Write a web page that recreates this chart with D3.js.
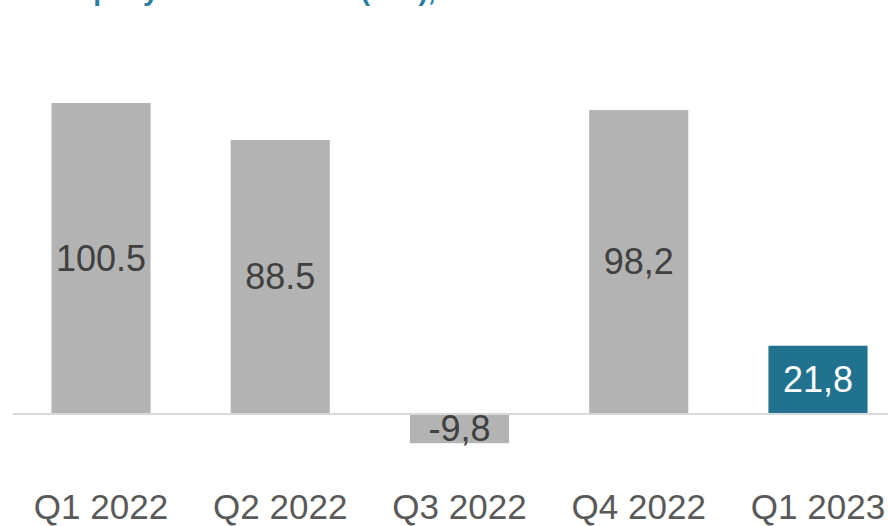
<!DOCTYPE html>
<html>
<head>
<meta charset="utf-8">
<script src="https://cdn.jsdelivr.net/npm/d3@7"></script>
<style>
  html, body { margin: 0; padding: 0; background: #ffffff; }
  svg { display: block; font-family: "Liberation Sans", Arial, sans-serif; }
</style>
</head>
<body>
<svg id="chart" width="888" height="526"></svg>
<script>
// Quarterly values (€ m) and the labels printed on each bar
const quarters = ["Q1 2022", "Q2 2022", "Q3 2022", "Q4 2022", "Q1 2023"];
const values = [100.5, 88.5, -9.8, 98.2, 21.8];
const valueLabels = ["100.5", "88.5", "-9,8", "98,2", "21,8"];
const highlighted = ["Q1 2023"];
const titleText = "Company free cash flow (€ m),";

const svg = d3.select("#chart");
const width = 888;

const x = d3.scaleBand()
  .domain(quarters)
  .range([12, 907])
  .paddingInner(0.447)
  .paddingOuter(0.22);

const y = d3.scaleLinear()
  .domain([-9.8, 100.5])
  .range([443.2, 103]);

// Title (runs off the top edge)
svg.append("text")
  .attr("x", 31)
  .attr("y", 0)
  .attr("fill", "#2a7ea0")
  .attr("font-weight", "bold")
  .attr("font-size", 28)
  .text(titleText);

// Bars
const data = quarters.map((q, i) => ({ q, v: values[i], label: valueLabels[i] }));

svg.append("g")
  .selectAll("rect")
  .data(data)
  .join("rect")
  .attr("x", d => x(d.q))
  .attr("width", x.bandwidth())
  .attr("y", d => y(Math.max(0, d.v)))
  .attr("height", d => Math.abs(y(d.v) - y(0)))
  .attr("fill", d => highlighted.includes(d.q) ? "#21728f" : "#b3b3b3");

// Zero line
svg.append("line")
  .attr("x1", 13)
  .attr("x2", width)
  .attr("y1", y(0) + 1)
  .attr("y2", y(0) + 1)
  .attr("stroke", "#d9d9d9")
  .attr("stroke-width", 2);

// Value labels, centred in each bar
svg.append("g")
  .selectAll("text")
  .data(data)
  .join("text")
  .attr("x", d => x(d.q) + x.bandwidth() / 2)
  .attr("y", d => (y(d.v) + y(0)) / 2)
  .attr("dy", "0.36em")
  .attr("text-anchor", "middle")
  .attr("font-size", 36)
  .attr("fill", d => highlighted.includes(d.q) ? "#ffffff" : "#404040")
  .text(d => d.label);

// Category axis
const xAxis = d3.axisBottom(x).tickSize(0).tickPadding(0);
const gx = svg.append("g")
  .attr("transform", "translate(0,519)")
  .call(xAxis);
gx.select(".domain").remove();
gx.selectAll("text")
  .attr("dy", 0)
  .attr("y", 0)
  .attr("font-size", 35)
  .attr("font-family", "\"Liberation Sans\", Arial, sans-serif")
  .attr("fill", "#595959");
</script>
</body>
</html>
